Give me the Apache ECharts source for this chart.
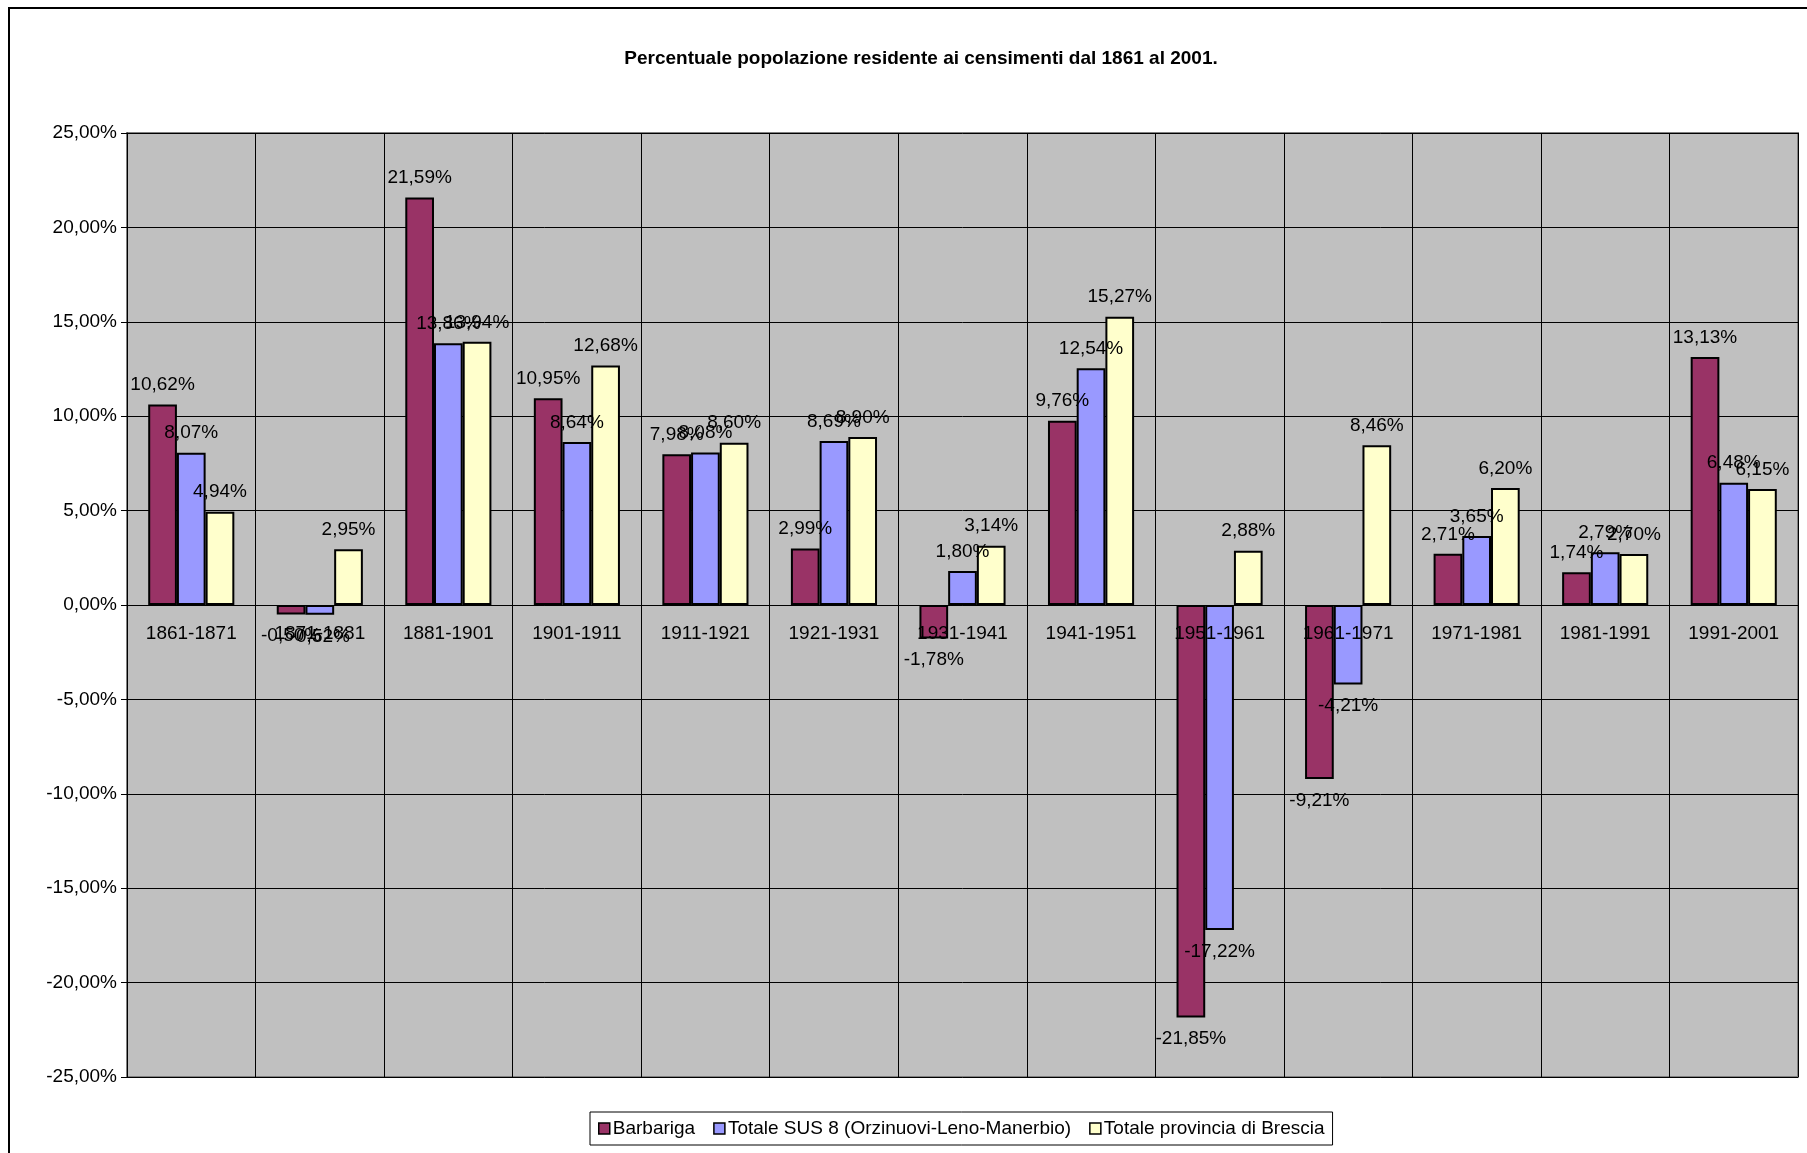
<!DOCTYPE html>
<html>
<head>
<meta charset="utf-8">
<script src="https://cdn.jsdelivr.net/npm/echarts@6/dist/echarts.min.js"></script>
<style>
  html, body { margin: 0; padding: 0; background: #fff; }
  #chart { width: 1807px; height: 1153px; }
</style>
</head>
<body>
<div id="chart"></div>
<script>
// --- dati ---
const periods = ['1861-1871', '1871-1881', '1881-1901', '1901-1911', '1911-1921', '1921-1931',
  '1931-1941', '1941-1951', '1951-1961', '1961-1971', '1971-1981', '1981-1991', '1991-2001'];
const barbariga = [10.62, -0.50, 21.59, 10.95, 7.98, 2.99, -1.78, 9.76, -21.85, -9.21, 2.71, 1.74, 13.13];
const sus8 = [8.07, -0.52, 13.86, 8.64, 8.08, 8.69, 1.80, 12.54, -17.22, -4.21, 3.65, 2.79, 6.48];
const brescia = [4.94, 2.95, 13.94, 12.68, 8.60, 8.90, 3.14, 15.27, 2.88, 8.46, 6.20, 2.70, 6.15];

const COLORS = {
  barbariga: '#993366',
  sus8: '#9999FF',
  brescia: '#FFFFCC',
  plot: '#C0C0C0'
};

const FONT = 'Liberation Sans, Arial, sans-serif';

// area del grafico (px)
const GRID = { left: 127, right: 9, top: 133, bottom: 76 };
const Y_MIN = -25, Y_MAX = 25;
// spostamento dell'asse X sulla linea dello zero
const plotH = 1153 - GRID.top - GRID.bottom;
const zeroOffset = -Math.round(plotH * (0 - Y_MIN) / (Y_MAX - Y_MIN));

// formato italiano: 10,62%
const fmtPct = (v) => v.toFixed(2).replace('.', ',') + '%';

// etichette sopra le barre positive, sotto quelle negative
const withLabels = (arr) => arr.map(v => ({
  value: v,
  label: v < 0 ? { position: 'bottom', distance: 12 } : { position: 'top', distance: 10 }
}));

const makeSeries = (name, data, color) => ({
  name,
  type: 'bar',
  data: withLabels(data),
  barGap: '0%',
  barCategoryGap: '33%',
  itemStyle: { color, borderColor: '#000', borderWidth: 2 },
  label: {
    show: true,
    color: '#000',
    fontFamily: FONT,
    fontSize: 19,
    formatter: (p) => fmtPct(p.value)
  },
  emphasis: { disabled: true }
});

const chart = echarts.init(document.getElementById('chart'));

chart.setOption({
  backgroundColor: '#fff',
  animation: false,
  title: {
    text: 'Percentuale popolazione residente ai censimenti dal 1861 al 2001.',
    left: 916,
    top: 44,
    textAlign: 'center',
    textStyle: { fontFamily: FONT, fontSize: 19, fontWeight: 'bold', color: '#000' }
  },
  graphic: [
    {
      type: 'rect',
      shape: { x: 9, y: 8, width: 1820, height: 1170 },
      style: { fill: 'none', stroke: '#000', lineWidth: 2 },
      silent: true
    }
  ],
  legend: {
    left: 590,
    top: 1112,
    padding: [7, 8],
    itemGap: 18,
    itemWidth: 11,
    itemHeight: 11,
    borderColor: '#000',
    borderWidth: 1,
    backgroundColor: '#fff',
    icon: 'rect',
    itemStyle: { borderColor: '#000', borderWidth: 1.5 },
    textStyle: { fontFamily: FONT, fontSize: 19, color: '#000', padding: [0, 0, 0, -2] },
    data: ['Barbariga', 'Totale SUS 8 (Orzinuovi-Leno-Manerbio)', 'Totale provincia di Brescia']
  },
  grid: {
    left: GRID.left, right: GRID.right, top: GRID.top, bottom: GRID.bottom,
    show: true,
    backgroundColor: COLORS.plot,
    borderColor: '#808080',
    borderWidth: 2
  },
  xAxis: {
    type: 'category',
    data: periods,
    position: 'bottom',
    offset: zeroOffset,
    z: 10,
    axisLine: { onZero: false, lineStyle: { color: '#000', width: 1 } },
    axisTick: { show: true, length: 5, lineStyle: { color: '#000' } },
    axisLabel: { color: '#000', fontFamily: FONT, fontSize: 19, margin: 19, interval: 0 },
    splitLine: { show: true, lineStyle: { color: '#000', width: 1 } }
  },
  yAxis: {
    type: 'value',
    min: Y_MIN,
    max: Y_MAX,
    interval: 5,
    axisLine: { show: true, lineStyle: { color: '#000', width: 1 } },
    axisTick: { show: true, length: 6, lineStyle: { color: '#000' } },
    axisLabel: {
      color: '#000', fontFamily: FONT, fontSize: 19, margin: 10,
      formatter: (v) => fmtPct(v)
    },
    splitLine: { show: true, lineStyle: { color: '#000', width: 1 } }
  },
  series: [
    makeSeries('Barbariga', barbariga, COLORS.barbariga),
    makeSeries('Totale SUS 8 (Orzinuovi-Leno-Manerbio)', sus8, COLORS.sus8),
    makeSeries('Totale provincia di Brescia', brescia, COLORS.brescia)
  ]
});
</script>
</body>
</html>
